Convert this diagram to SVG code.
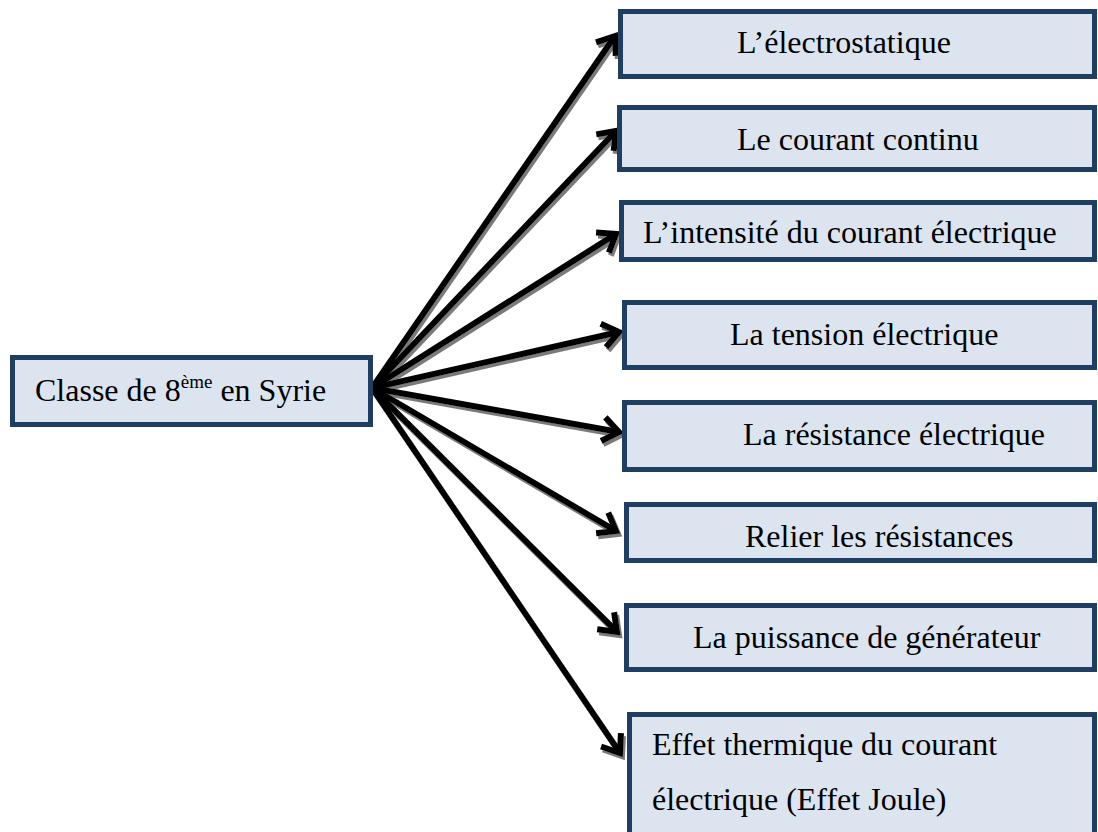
<svg xmlns="http://www.w3.org/2000/svg" width="1098" height="832" viewBox="0 0 1098 832">
<style>
.box{fill:#dce4f0;stroke:#203d62;stroke-width:5}
.t{font-family:"Liberation Serif","Times New Roman","DejaVu Serif",serif;font-size:32px;fill:#000}
.sup{font-size:19px}
.c{fill:none;stroke:#000;stroke-width:6}
</style>
<defs>
<marker id="ah" markerUnits="userSpaceOnUse" markerWidth="30" markerHeight="30" viewBox="0 0 30 30" refX="19" refY="12" orient="auto" overflow="visible">
<path d="M3,0 L19,12 L3,24" fill="none" stroke="#000" stroke-width="6" stroke-linejoin="miter"/>
</marker>
<filter id="sh" x="-10%" y="-10%" width="120%" height="120%">
<feOffset in="SourceAlpha" dx="2" dy="3" result="o"/>
<feFlood flood-color="#7a7a7a"/>
<feComposite in2="o" operator="in" result="s"/>
<feMerge><feMergeNode in="s"/><feMergeNode in="SourceGraphic"/></feMerge>
</filter>
</defs>
<rect width="1098" height="832" fill="#fff"/>
<g id="connectors" filter="url(#sh)">
<path class="c" d="M372,388 L615,36" marker-end="url(#ah)"/>
<path class="c" d="M372,388 L616,131" marker-end="url(#ah)"/>
<path class="c" d="M372,388 L616,234" marker-end="url(#ah)"/>
<path class="c" d="M372,388 L619,332" marker-end="url(#ah)"/>
<path class="c" d="M372,388 L619,432" marker-end="url(#ah)"/>
<path class="c" d="M372,388 L616,531" marker-end="url(#ah)"/>
<path class="c" d="M372,388 L617,632" marker-end="url(#ah)"/>
<path class="c" d="M372,388 L620,753" marker-end="url(#ah)"/>
</g>
<g id="n0"><rect class="box" x="12.5" y="357.5" width="358" height="67"/><text class="t" x="35" y="401">Classe de 8<tspan class="sup" dy="-13">ème</tspan><tspan dy="13"> en Syrie</tspan></text></g>
<g id="n1"><rect class="box" x="620.5" y="11.5" width="474" height="65"/><text class="t" x="737" y="53">L’électrostatique</text></g>
<g id="n2"><rect class="box" x="619.5" y="107.5" width="475" height="62"/><text class="t" x="737" y="150">Le courant continu</text></g>
<g id="n3"><rect class="box" x="621.5" y="202.5" width="473" height="57"/><text class="t" x="643" y="243">L’intensité du courant électrique</text></g>
<g id="n4"><rect class="box" x="624.5" y="302.5" width="470" height="65"/><text class="t" x="730" y="345">La tension électrique</text></g>
<g id="n5"><rect class="box" x="624.5" y="402.5" width="470" height="67"/><text class="t" x="743" y="445">La résistance électrique</text></g>
<g id="n6"><rect class="box" x="626.5" y="504.5" width="468" height="56"/><text class="t" x="745" y="547">Relier les résistances</text></g>
<g id="n7"><rect class="box" x="626.5" y="605.5" width="468" height="64"/><text class="t" x="693" y="648">La puissance de générateur</text></g>
<g id="n8"><rect class="box" x="629.5" y="714.5" width="465" height="130"/><text class="t" x="652" y="755">Effet thermique du courant</text><text class="t" x="652" y="810">électrique (Effet Joule)</text></g>
</svg>
